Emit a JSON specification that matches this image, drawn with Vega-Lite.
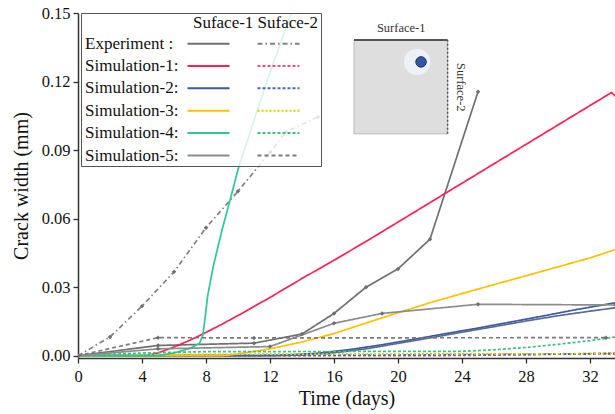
{
  "$schema": "https://vega.github.io/schema/vega-lite/v6.json",
  "width": 537,
  "height": 345,
  "autosize": {"type": "none"},
  "padding": {"left": 78, "top": 13, "right": 0, "bottom": 56},
  "background": "white",
  "config": {
    "view": {"stroke": null},
    "font": "Liberation Serif",
    "text": {"font": "Liberation Serif"},
    "axis": {"labelFont": "Liberation Serif", "titleFont": "Liberation Serif", "grid": false},
    "legend": {
      "orient": "none",
      "legendX": 3,
      "legendY": 0,
      "columns": 3,
      "titleAnchor": "end",
      "titleFont": "Liberation Serif",
      "titleFontSize": 17,
      "titleFontWeight": "normal",
      "titleColor": "#111111",
      "titlePadding": 3,
      "labelFont": "Liberation Serif",
      "labelFontSize": 17,
      "labelColor": "#111111",
      "labelOffset": -15,
      "labelLimit": 400,
      "symbolType": "M0,0H14M18.95,0",
      "symbolSize": 36,
      "symbolStrokeWidth": 2,
      "rowPadding": 4.4,
      "columnPadding": -7,
      "padding": 2,
      "strokeColor": "#555555",
      "fillColor": "rgba(255,255,255,0.8)"
    }
  },
  "datasets": {
    "lines": [
      {"series": "Exp S1", "day": 0, "width_mm": 0},
      {"series": "Exp S1", "day": 5, "width_mm": 0.0045},
      {"series": "Exp S1", "day": 11, "width_mm": 0.0055},
      {"series": "Exp S1", "day": 14, "width_mm": 0.0095},
      {"series": "Exp S1", "day": 16, "width_mm": 0.0185},
      {"series": "Exp S1", "day": 18, "width_mm": 0.030},
      {"series": "Exp S1", "day": 20, "width_mm": 0.038},
      {"series": "Exp S1", "day": 22, "width_mm": 0.051},
      {"series": "Exp S1", "day": 25, "width_mm": 0.1155},
      {"series": "Exp S2", "day": 0, "width_mm": 0},
      {"series": "Exp S2", "day": 2, "width_mm": 0.0082},
      {"series": "Exp S2", "day": 4, "width_mm": 0.0217},
      {"series": "Exp S2", "day": 6, "width_mm": 0.0367},
      {"series": "Exp S2", "day": 8, "width_mm": 0.056},
      {"series": "Exp S2", "day": 10, "width_mm": 0.072},
      {"series": "Exp S2", "day": 12, "width_mm": 0.089},
      {"series": "Exp S2", "day": 13, "width_mm": 0.098},
      {"series": "Exp S2", "day": 15, "width_mm": 0.1045},
      {"series": "Sim1 S1", "day": 0, "width_mm": 0},
      {"series": "Sim1 S1", "day": 4.2, "width_mm": 0},
      {"series": "Sim1 S1", "day": 5, "width_mm": 0.0012},
      {"series": "Sim1 S1", "day": 6, "width_mm": 0.0038},
      {"series": "Sim1 S1", "day": 7, "width_mm": 0.0068},
      {"series": "Sim1 S1", "day": 8, "width_mm": 0.0102},
      {"series": "Sim1 S1", "day": 9, "width_mm": 0.0138},
      {"series": "Sim1 S1", "day": 10, "width_mm": 0.0176},
      {"series": "Sim1 S1", "day": 12, "width_mm": 0.0255},
      {"series": "Sim1 S1", "day": 14, "width_mm": 0.0338},
      {"series": "Sim1 S1", "day": 16, "width_mm": 0.0418},
      {"series": "Sim1 S1", "day": 18, "width_mm": 0.05},
      {"series": "Sim1 S1", "day": 20, "width_mm": 0.0585},
      {"series": "Sim1 S1", "day": 22, "width_mm": 0.067},
      {"series": "Sim1 S1", "day": 24, "width_mm": 0.0755},
      {"series": "Sim1 S1", "day": 26, "width_mm": 0.084},
      {"series": "Sim1 S1", "day": 28, "width_mm": 0.0925},
      {"series": "Sim1 S1", "day": 30, "width_mm": 0.101},
      {"series": "Sim1 S1", "day": 32, "width_mm": 0.1095},
      {"series": "Sim1 S1", "day": 33.35, "width_mm": 0.1152},
      {"series": "Sim1 S1", "day": 33.6, "width_mm": 0.1135},
      {"series": "Sim1 S2", "day": 0, "width_mm": 0},
      {"series": "Sim1 S2", "day": 22, "width_mm": 0},
      {"series": "Sim1 S2", "day": 28, "width_mm": 0.0004},
      {"series": "Sim1 S2", "day": 33.6, "width_mm": 0.0012},
      {"series": "Sim2 S1", "day": 0, "width_mm": 0},
      {"series": "Sim2 S1", "day": 11, "width_mm": 0},
      {"series": "Sim2 S1", "day": 13, "width_mm": 0.0003},
      {"series": "Sim2 S1", "day": 15, "width_mm": 0.0011},
      {"series": "Sim2 S1", "day": 17, "width_mm": 0.0027},
      {"series": "Sim2 S1", "day": 19, "width_mm": 0.0048},
      {"series": "Sim2 S1", "day": 21, "width_mm": 0.0072},
      {"series": "Sim2 S1", "day": 23, "width_mm": 0.0097},
      {"series": "Sim2 S1", "day": 25, "width_mm": 0.0121},
      {"series": "Sim2 S1", "day": 27, "width_mm": 0.0147},
      {"series": "Sim2 S1", "day": 29, "width_mm": 0.0173},
      {"series": "Sim2 S1", "day": 31, "width_mm": 0.02},
      {"series": "Sim2 S1", "day": 33.6, "width_mm": 0.0232},
      {"series": "Sim2 S1b", "day": 0, "width_mm": 0},
      {"series": "Sim2 S1b", "day": 12, "width_mm": 0},
      {"series": "Sim2 S1b", "day": 14, "width_mm": 0.0003},
      {"series": "Sim2 S1b", "day": 16, "width_mm": 0.0013},
      {"series": "Sim2 S1b", "day": 18, "width_mm": 0.003},
      {"series": "Sim2 S1b", "day": 20, "width_mm": 0.0054},
      {"series": "Sim2 S1b", "day": 22, "width_mm": 0.0078},
      {"series": "Sim2 S1b", "day": 24, "width_mm": 0.0103},
      {"series": "Sim2 S1b", "day": 26, "width_mm": 0.0127},
      {"series": "Sim2 S1b", "day": 28, "width_mm": 0.0152},
      {"series": "Sim2 S1b", "day": 30, "width_mm": 0.0175},
      {"series": "Sim2 S1b", "day": 32, "width_mm": 0.0195},
      {"series": "Sim2 S1b", "day": 33.6, "width_mm": 0.021},
      {"series": "Sim2 S2", "day": 0, "width_mm": 0},
      {"series": "Sim2 S2", "day": 16, "width_mm": 0.0002},
      {"series": "Sim2 S2", "day": 33.6, "width_mm": 0.0008},
      {"series": "Sim3 S1", "day": 0, "width_mm": 0},
      {"series": "Sim3 S1", "day": 9, "width_mm": 0},
      {"series": "Sim3 S1", "day": 10, "width_mm": 0.0008},
      {"series": "Sim3 S1", "day": 12, "width_mm": 0.003},
      {"series": "Sim3 S1", "day": 14, "width_mm": 0.006},
      {"series": "Sim3 S1", "day": 16, "width_mm": 0.0097},
      {"series": "Sim3 S1", "day": 18, "width_mm": 0.0143},
      {"series": "Sim3 S1", "day": 20, "width_mm": 0.0188},
      {"series": "Sim3 S1", "day": 22, "width_mm": 0.0232},
      {"series": "Sim3 S1", "day": 24, "width_mm": 0.0272},
      {"series": "Sim3 S1", "day": 26, "width_mm": 0.0311},
      {"series": "Sim3 S1", "day": 28, "width_mm": 0.035},
      {"series": "Sim3 S1", "day": 30, "width_mm": 0.0389},
      {"series": "Sim3 S1", "day": 32, "width_mm": 0.0428},
      {"series": "Sim3 S1", "day": 33.6, "width_mm": 0.0465},
      {"series": "Sim3 S2", "day": 0, "width_mm": 0},
      {"series": "Sim3 S2", "day": 6, "width_mm": 0.0006},
      {"series": "Sim3 S2", "day": 33.6, "width_mm": 0.0009},
      {"series": "Sim4 S1", "day": 0, "width_mm": 0},
      {"series": "Sim4 S1", "day": 5, "width_mm": 0},
      {"series": "Sim4 S1", "day": 6, "width_mm": 0.0012},
      {"series": "Sim4 S1", "day": 7, "width_mm": 0.0032},
      {"series": "Sim4 S1", "day": 7.6, "width_mm": 0.0055},
      {"series": "Sim4 S1", "day": 7.8, "width_mm": 0.009},
      {"series": "Sim4 S1", "day": 7.9, "width_mm": 0.014},
      {"series": "Sim4 S1", "day": 8.1, "width_mm": 0.026},
      {"series": "Sim4 S1", "day": 8.45, "width_mm": 0.039},
      {"series": "Sim4 S1", "day": 9, "width_mm": 0.055},
      {"series": "Sim4 S1", "day": 9.5, "width_mm": 0.068},
      {"series": "Sim4 S1", "day": 10, "width_mm": 0.0815},
      {"series": "Sim4 S1", "day": 11, "width_mm": 0.103},
      {"series": "Sim4 S1", "day": 12, "width_mm": 0.124},
      {"series": "Sim4 S1", "day": 13, "width_mm": 0.1435},
      {"series": "Sim4 S1", "day": 13.4, "width_mm": 0.151},
      {"series": "Sim4 S2", "day": 0, "width_mm": 0},
      {"series": "Sim4 S2", "day": 4, "width_mm": 0.0012},
      {"series": "Sim4 S2", "day": 8, "width_mm": 0.0018},
      {"series": "Sim4 S2", "day": 24, "width_mm": 0.0019},
      {"series": "Sim4 S2", "day": 26, "width_mm": 0.0026},
      {"series": "Sim4 S2", "day": 28, "width_mm": 0.0036},
      {"series": "Sim4 S2", "day": 30, "width_mm": 0.005},
      {"series": "Sim4 S2", "day": 32, "width_mm": 0.0066},
      {"series": "Sim4 S2", "day": 33.6, "width_mm": 0.0082},
      {"series": "Sim5 S1", "day": 0, "width_mm": 0},
      {"series": "Sim5 S1", "day": 5, "width_mm": 0.003},
      {"series": "Sim5 S1", "day": 12, "width_mm": 0.004},
      {"series": "Sim5 S1", "day": 16, "width_mm": 0.0142},
      {"series": "Sim5 S1", "day": 19, "width_mm": 0.0185},
      {"series": "Sim5 S1", "day": 25, "width_mm": 0.0225},
      {"series": "Sim5 S1", "day": 33.6, "width_mm": 0.0222},
      {"series": "Sim5 S2", "day": 0, "width_mm": 0},
      {"series": "Sim5 S2", "day": 5, "width_mm": 0.0079},
      {"series": "Sim5 S2", "day": 11, "width_mm": 0.0078},
      {"series": "Sim5 S2", "day": 33, "width_mm": 0.0079}
    ]
  },
  "layer": [
    {
      "data": {"name": "lines"},
      "mark": {"type": "line", "strokeWidth": 1.7, "clip": true},
      "encoding": {
        "x": {
          "field": "day", "type": "quantitative",
          "scale": {"domain": [0, 33.5625], "nice": false, "zero": false},
          "axis": {
            "title": "Time (days)",
            "values": [0, 2, 4, 6, 8, 10, 12, 14, 16, 18, 20, 22, 24, 26, 28, 30, 32],
            "labelExpr": "datum.value % 4 == 0 ? datum.label : ''",
            "tickSize": 5,
            "labelFont": "Liberation Serif", "titleFont": "Liberation Serif",
            "labelFontSize": 16.5, "titleFontSize": 20, "titleFontWeight": "normal",
            "labelPadding": 5, "titlePadding": 4, "domainColor": "#333333", "tickColor": "#333333",
            "domainWidth": 1.5, "tickWidth": 1.3, "labelColor": "#111111", "titleColor": "#111111",
            "labelFlush": false, "labelOverlap": false
          }
        },
        "y": {
          "field": "width_mm", "type": "quantitative",
          "scale": {"domain": [-0.001, 0.15], "nice": false, "zero": false},
          "axis": {
            "title": "Crack width (mm)",
            "values": [0, 0.015, 0.03, 0.045, 0.06, 0.075, 0.09, 0.105, 0.12, 0.135, 0.15],
            "labelExpr": "round(datum.value * 1000) % 30 == 0 ? format(datum.value, '.2f') : ''",
            "tickSize": 5,
            "labelFont": "Liberation Serif", "titleFont": "Liberation Serif",
            "labelFontSize": 16.5, "titleFontSize": 20, "titleFontWeight": "normal",
            "labelPadding": 3, "titlePadding": 10, "domainColor": "#333333", "tickColor": "#333333",
            "domainWidth": 1.5, "tickWidth": 1.3, "labelColor": "#111111", "titleColor": "#111111",
            "labelFlush": false, "labelOverlap": false
          }
        },
        "color": {
          "field": "series", "type": "nominal",
          "scale": {
            "domain": ["Experiment :", "Exp S1", "Exp S2", "Simulation-1:", "Sim1 S1", "Sim1 S2", "Simulation-2:", "Sim2 S1", "Sim2 S2", "Simulation-3:", "Sim3 S1", "Sim3 S2", "Simulation-4:", "Sim4 S1", "Sim4 S2", "Simulation-5:", "Sim5 S1", "Sim5 S2", "Sim2 S1b"],
            "range": ["#ffffff", "#707070", "#808080", "#ffffff", "#ff1f50", "#ff4d7d", "#ffffff", "#3b5ba5", "#4a68b8", "#ffffff", "#ffc000", "#c8d400", "#ffffff", "#2cc79a", "#3cc080", "#ffffff", "#8c8c8c", "#7a7a7a", "#5a6a90"]
          },
          "legend": {
            "values": ["Experiment :", "Simulation-1:", "Simulation-2:", "Simulation-3:", "Simulation-4:", "Simulation-5:", "Exp S1", "Sim1 S1", "Sim2 S1", "Sim3 S1", "Sim4 S1", "Sim5 S1", "Exp S2", "Sim1 S2", "Sim2 S2", "Sim3 S2", "Sim4 S2", "Sim5 S2"],
            "title": "Suface-1   Suface-2",
            "labelFont": "Liberation Serif",
            "titleFont": "Liberation Serif",
            "labelExpr": "indexof(datum.label, ':') > 0 ? datum.label : ''"
          }
        },
        "strokeDash": {
          "field": "series", "type": "nominal",
          "scale": {
            "domain": ["Experiment :", "Exp S1", "Exp S2", "Simulation-1:", "Sim1 S1", "Sim1 S2", "Simulation-2:", "Sim2 S1", "Sim2 S2", "Simulation-3:", "Sim3 S1", "Sim3 S2", "Simulation-4:", "Sim4 S1", "Sim4 S2", "Simulation-5:", "Sim5 S1", "Sim5 S2", "Sim2 S1b"],
            "range": [[1, 0], [1, 0], [5, 3, 1.5, 3], [1, 0], [1, 0], [3, 2], [1, 0], [1, 0], [3, 2], [1, 0], [1, 0], [2, 2], [1, 0], [1, 0], [3, 2], [1, 0], [1, 0], [4, 3], [1, 0]]
          },
          "legend": {
            "values": ["Experiment :", "Simulation-1:", "Simulation-2:", "Simulation-3:", "Simulation-4:", "Simulation-5:", "Exp S1", "Sim1 S1", "Sim2 S1", "Sim3 S1", "Sim4 S1", "Sim5 S1", "Exp S2", "Sim1 S2", "Sim2 S2", "Sim3 S2", "Sim4 S2", "Sim5 S2"],
            "title": "Suface-1   Suface-2",
            "labelFont": "Liberation Serif",
            "titleFont": "Liberation Serif",
            "labelExpr": "indexof(datum.label, ':') > 0 ? datum.label : ''"
          }
        }
      }
    },
    {
      "data": {"name": "lines"},
      "transform": [{"filter": {"field": "series", "oneOf": ["Exp S1", "Exp S2", "Sim5 S1", "Sim5 S2"]}}],
      "mark": {"type": "point", "shape": "diamond", "filled": true, "color": "#6e6e6e", "size": 20, "opacity": 1, "clip": true},
      "encoding": {
        "x": {"field": "day", "type": "quantitative"},
        "y": {"field": "width_mm", "type": "quantitative"}
      }
    },
    {
      "data": {"values": [{}]},
      "mark": {"type": "rect", "fill": "#dedede", "stroke": "#b8b8b8", "strokeWidth": 1},
      "encoding": {
        "x": {"datum": 17.25, "type": "quantitative"},
        "x2": {"datum": 23.1},
        "y": {"datum": 0.0971, "type": "quantitative"},
        "y2": {"datum": 0.1382}
      }
    },
    {
      "data": {"values": [{}]},
      "mark": {"type": "rule", "stroke": "#555555", "strokeWidth": 2},
      "encoding": {
        "x": {"datum": 17.25, "type": "quantitative"},
        "x2": {"datum": 23.1},
        "y": {"datum": 0.1382, "type": "quantitative"}
      }
    },
    {
      "data": {"values": [{}]},
      "mark": {"type": "rule", "stroke": "#555555", "strokeWidth": 1.5, "strokeDash": [2, 2]},
      "encoding": {
        "x": {"datum": 23.1, "type": "quantitative"},
        "y": {"datum": 0.0971, "type": "quantitative"},
        "y2": {"datum": 0.1382}
      }
    },
    {
      "data": {"values": [{}]},
      "mark": {"type": "point", "filled": true, "fill": "#eef4fc", "opacity": 0.9, "size": 700, "strokeWidth": 0},
      "encoding": {
        "x": {"datum": 21.2, "type": "quantitative"},
        "y": {"datum": 0.1286, "type": "quantitative"}
      }
    },
    {
      "data": {"values": [{}]},
      "mark": {"type": "point", "filled": true, "fill": "#3158a6", "stroke": "#1c2d5c", "strokeWidth": 1, "opacity": 1, "size": 110},
      "encoding": {
        "x": {"datum": 21.44, "type": "quantitative"},
        "y": {"datum": 0.1286, "type": "quantitative"}
      }
    },
    {
      "data": {"values": [{}]},
      "mark": {"type": "text", "text": "Surface-1", "font": "Liberation Serif", "fontSize": 12.5, "color": "#333333", "align": "center", "baseline": "middle"},
      "encoding": {
        "x": {"datum": 20.2, "type": "quantitative"},
        "y": {"datum": 0.1436, "type": "quantitative"}
      }
    },
    {
      "data": {"values": [{}]},
      "mark": {"type": "text", "text": "Surface-2", "font": "Liberation Serif", "fontSize": 12.5, "color": "#333333", "align": "center", "baseline": "middle", "angle": 90},
      "encoding": {
        "x": {"datum": 23.95, "type": "quantitative"},
        "y": {"datum": 0.1175, "type": "quantitative"}
      }
    }
  ]
}
